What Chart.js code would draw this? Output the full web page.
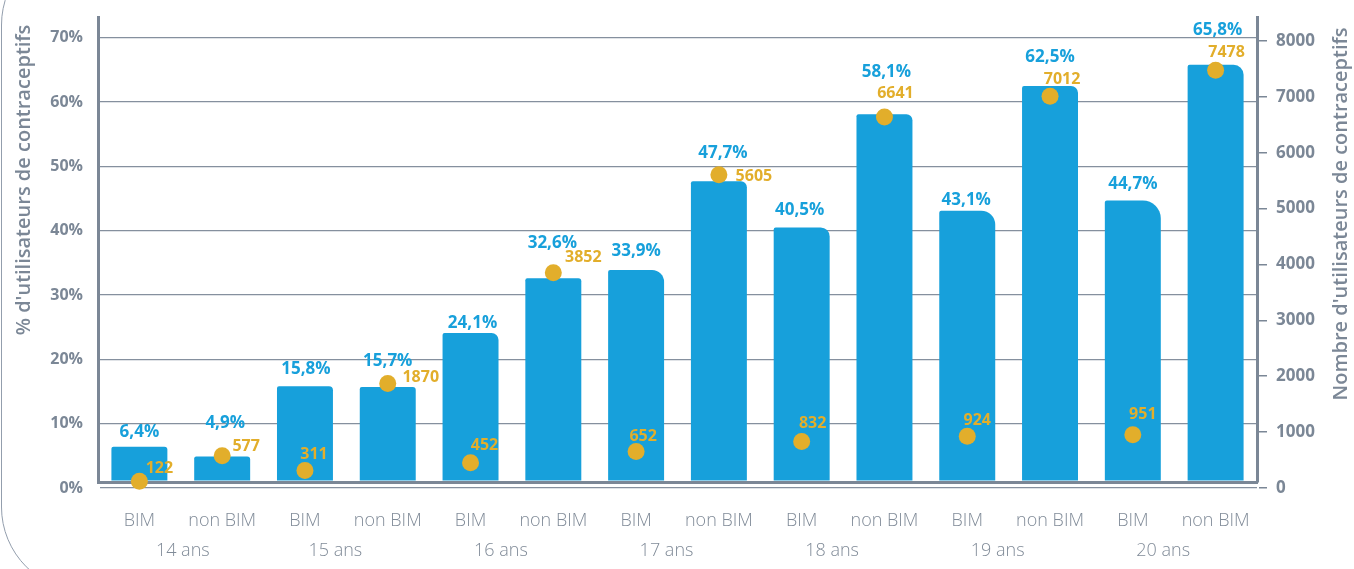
<!DOCTYPE html>
<html>
<head>
<meta charset="utf-8">
<script src="https://cdn.jsdelivr.net/npm/chart.js@4.4.1/dist/chart.umd.min.js"></script>
<style>
  html, body { margin: 0; padding: 0; background: #ffffff; overflow: hidden; }
  #wrap { position: relative; width: 1354px; height: 569px; overflow: hidden; }
  #frame {
    position: absolute; left: 1px; top: -60px; width: 1500px; height: 652px;
    border: 1.5px solid #939ead; border-radius: 85px; box-sizing: border-box;
  }
  canvas { position: absolute; left: 0; top: 0; }
</style>
</head>
<body>
<div id="wrap">
  <div id="frame"></div>
  <canvas id="chart" width="1354" height="569"></canvas>
</div>
<script>
// ---- data ----
const categories = ['BIM', 'non BIM', 'BIM', 'non BIM', 'BIM', 'non BIM', 'BIM', 'non BIM',
                    'BIM', 'non BIM', 'BIM', 'non BIM', 'BIM', 'non BIM'];
const ageGroups = ['14 ans', '15 ans', '16 ans', '17 ans', '18 ans', '19 ans', '20 ans'];
const pctUsers = [6.4, 4.9, 15.8, 15.7, 24.1, 32.6, 33.9, 47.7, 40.5, 58.1, 43.1, 62.5, 44.7, 65.8];
const nbUsers = [122, 577, 311, 1870, 452, 3852, 652, 5605, 832, 6641, 924, 7012, 951, 7478];
const pctTicks = [0, 10, 20, 30, 40, 50, 60, 70];
const nbTicks = [0, 1000, 2000, 3000, 4000, 5000, 6000, 7000, 8000];

// ---- styling / label layout ----
const BLUE = '#17a0db';
const GOLD = '#e2ae2b';
const AXIS = '#7b8796';
const GRID = '#85909e';
const FONT = "'Open Sans', 'Noto Sans', sans-serif";
const barRadii = [3, 3, 4, 3, 7, 3, 12, 6, 9, 6, 14, 7, 18, 10];
// label offsets in px: [dx, dy] from bar top centre / from dot centre
const pctLabelOffset = [[0,-15],[3,-33],[1,-17],[0,-26],[2,-10],[-1,-35],[0,-19],
                        [4,-28],[-2,-17],[2,-42],[-1,-11],[0,-29],[0,-16],[2,-35]];
const nbLabelOffset = [[20,-13],[24,-9],[9,-16],[33,-6],[14,-17],[30,-15],[7,-15],
                       [35,2],[11,-18],[11,-23],[10,-16],[12,-17],[10,-20],[11,-18]];
// horizontal nudge of each age-group caption from the middle of its pair
const groupLabelShift = [2, -11, -11, -11, -11, -11, -11];

// keep the plot area exactly where the layout puts it (no extra room for end labels)
const noEdgePadding = (s) => { s.paddingTop = 0; s.paddingBottom = 0; s.paddingLeft = 0; s.paddingRight = 0; };

const labelPlugin = {
  id: 'valueLabels',
  afterDatasetsDraw(chart) {
    const ctx = chart.ctx;
    const bars = chart.getDatasetMeta(1).data;
    const dots = chart.getDatasetMeta(0).data;
    ctx.save();
    ctx.textAlign = 'center';
    ctx.textBaseline = 'middle';
    ctx.font = 'bold 17px ' + FONT;
    ctx.fillStyle = BLUE;
    bars.forEach((b, i) => {
      const [dx, dy] = pctLabelOffset[i];
      ctx.fillText(pctUsers[i].toFixed(1).replace('.', ',') + '%', b.x + dx, b.y + dy);
    });
    ctx.font = 'bold 16px ' + FONT;
    ctx.fillStyle = GOLD;
    dots.forEach((p, i) => {
      const [dx, dy] = nbLabelOffset[i];
      ctx.fillText(String(nbUsers[i]), p.x + dx, p.y + dy);
    });
    ctx.restore();
  },
  afterDraw(chart) {
    const ctx = chart.ctx;
    const xs = chart.scales.x;
    ctx.save();
    // age group labels under each BIM / non BIM pair
    ctx.textAlign = 'center';
    ctx.textBaseline = 'middle';
    ctx.fillStyle = '#808b98';
    ctx.font = '300 18px ' + FONT;
    ageGroups.forEach((g, k) => {
      const mid = (xs.getPixelForValue(2 * k) + xs.getPixelForValue(2 * k + 1)) / 2;
      ctx.fillText(g, mid + groupLabelShift[k], 551);
    });
    // axis titles
    ctx.fillStyle = AXIS;
    ctx.font = '600 20px ' + FONT;
    ctx.translate(24, 180);
    ctx.rotate(-Math.PI / 2);
    ctx.fillText("% d'utilisateurs de contraceptifs", 0, 0);
    ctx.setTransform(1, 0, 0, 1, 0, 0);
    ctx.translate(1341, 214);
    ctx.rotate(-Math.PI / 2);
    ctx.fillText("Nombre d'utilisateurs de contraceptifs", 0, 0);
    ctx.restore();
  }
};

new Chart(document.getElementById('chart'), {
  data: {
    labels: categories,
    datasets: [
      {
        type: 'line',
        label: "Nombre d'utilisateurs",
        data: nbUsers,
        yAxisID: 'y2',
        showLine: false,
        pointRadius: 8.5,
        pointBackgroundColor: GOLD,
        pointBorderWidth: 0,
        clip: false,
        order: 0
      },
      {
        type: 'bar',
        label: "% d'utilisateurs",
        data: pctUsers,
        yAxisID: 'y',
        backgroundColor: BLUE,
        categoryPercentage: 1,
        barPercentage: 0.676,
        borderRadius: (c) => ({ topLeft: 2, topRight: barRadii[c.dataIndex], bottomLeft: 0, bottomRight: 0 }),
        borderSkipped: 'start',
        clip: { left: false, right: false, top: false, bottom: -1.5 },
        order: 1
      }
    ]
  },
  options: {
    responsive: false,
    animation: false,
    layout: { padding: { top: 17, left: 0, right: 0, bottom: 0 } },
    plugins: { legend: { display: false }, tooltip: { enabled: false } },
    scales: {
      x: {
        type: 'category',
        offset: true,
        grid: { display: false },
        border: { color: AXIS, width: 3 },
        ticks: { padding: 20, color: '#808b98', font: { family: FONT, size: 18, weight: 300 }, maxRotation: 0, autoSkip: false },
        afterFit: (s) => { s.height = 87; noEdgePadding(s); }
      },
      y: {
        type: 'linear',
        position: 'left',
        min: 0.93,
        max: 73.22,
        afterBuildTicks: (s) => { s.ticks = pctTicks.map(v => ({ value: v })); },
        grid: { color: GRID, lineWidth: 1.3, drawTicks: false },
        border: { color: AXIS, width: 3 },
        ticks: {
          padding: 15, color: AXIS,
          font: { family: FONT, size: 16, weight: 'bold' },
          callback: (v) => v + '%'
        },
        afterFit: (s) => { s.width = 98; noEdgePadding(s); }
      },
      y2: {
        type: 'linear',
        position: 'right',
        min: 107,
        max: 8429,
        afterBuildTicks: (s) => { s.ticks = nbTicks.map(v => ({ value: v })); },
        grid: { drawOnChartArea: false, drawTicks: true, tickLength: 10, color: AXIS, lineWidth: 1.5 },
        border: { color: AXIS, width: 3 },
        ticks: {
          padding: 9, color: AXIS,
          font: { family: FONT, size: 17, weight: 'bold' },
          callback: (v) => String(v)
        },
        afterFit: (s) => { s.width = 97; noEdgePadding(s); }
      }
    }
  },
  plugins: [labelPlugin]
});
</script>
</body>
</html>
